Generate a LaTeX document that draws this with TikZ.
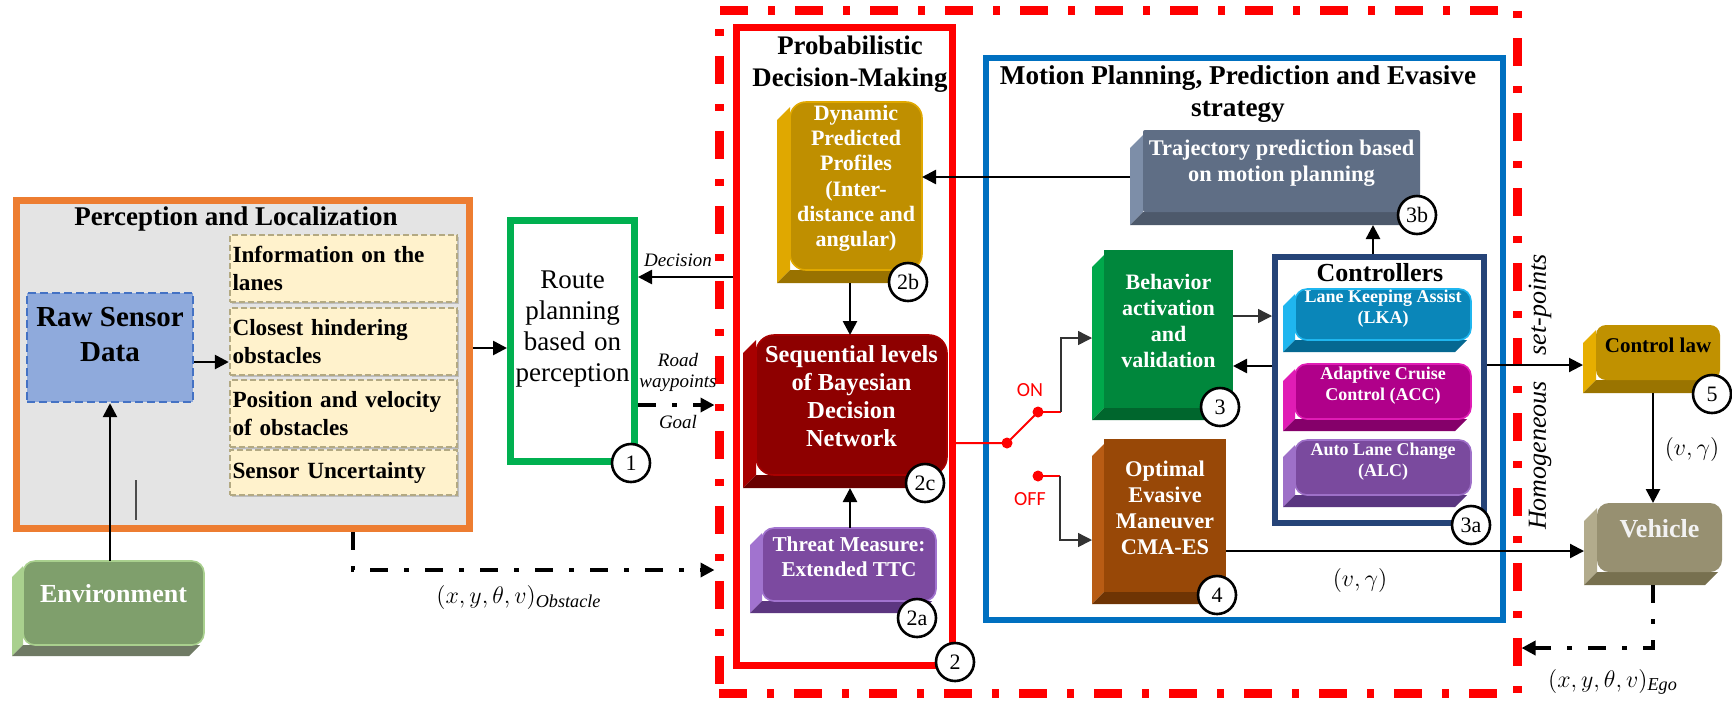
\documentclass[tikz,border=0pt]{standalone}
\usepackage{fontspec}
\setmainfont{Liberation Serif}
\newfontfamily\sansf{Carlito}
\usetikzlibrary{arrows.meta,calc,fit,shadows}
\pgfdeclarelayer{cont}
\pgfdeclarelayer{bev}
\pgfsetlayers{cont,bev,main}

\definecolor{orng}{HTML}{ED7D31}
\definecolor{grayf}{HTML}{E4E4E4}
\definecolor{rawf}{HTML}{8FAADC}
\definecolor{rawb}{HTML}{4472C4}
\definecolor{yel}{HTML}{FFF2CC}
\definecolor{ybord}{HTML}{B3A982}
\definecolor{grn}{HTML}{00B050}
\definecolor{blu}{HTML}{0070C0}
\definecolor{ctrlb}{HTML}{264478}
\definecolor{envF}{HTML}{7F9F6C}
\definecolor{envL}{HTML}{A9D08E}
\definecolor{envB}{HTML}{6F7A64}
\definecolor{dppF}{HTML}{BF8F00}
\definecolor{dppL}{HTML}{E0A800}
\definecolor{dppB}{HTML}{997200}
\definecolor{seqF}{HTML}{8E0000}
\definecolor{seqL}{HTML}{A80000}
\definecolor{seqB}{HTML}{6A0000}
\definecolor{thrF}{HTML}{7C4AA0}
\definecolor{thrL}{HTML}{A173CF}
\definecolor{thrB}{HTML}{5C3680}
\definecolor{trjF}{HTML}{5F6E85}
\definecolor{trjL}{HTML}{7D8EA8}
\definecolor{trjB}{HTML}{4D596B}
\definecolor{behF}{HTML}{00873C}
\definecolor{behL}{HTML}{00A84B}
\definecolor{behB}{HTML}{00662D}
\definecolor{optF}{HTML}{984807}
\definecolor{optL}{HTML}{B85C14}
\definecolor{optB}{HTML}{6E3404}
\definecolor{lkaF}{HTML}{0A86B9}
\definecolor{lkaL}{HTML}{1FB6EF}
\definecolor{lkaB}{HTML}{056891}
\definecolor{accF}{HTML}{B0008A}
\definecolor{accL}{HTML}{E01CB5}
\definecolor{accB}{HTML}{85006A}
\definecolor{alcF}{HTML}{7A4A9E}
\definecolor{alcL}{HTML}{9E70C8}
\definecolor{alcB}{HTML}{5A3680}
\definecolor{clF}{HTML}{C09100}
\definecolor{clL}{HTML}{E6AE00}
\definecolor{clB}{HTML}{9A7400}
\definecolor{vehF}{HTML}{979071}
\definecolor{vehL}{HTML}{B2AB8C}
\definecolor{vehB}{HTML}{77704F}

\newcommand\fsz[2]{\fontsize{#1}{#2}\selectfont}
% slab: name, x1, y1, x2, y2, depth, left colour, bottom colour
\newcommand\slab[8]{%
 \node[fit={(#2,#3)(#4,#5)}, inner sep=0pt, outer sep=0pt] (#1) {};
 \begin{pgfonlayer}{bev}
 \fill[#7] (#2+#6,#3+5) -- (#2+#6,#5-#6) -- (#2,#5) -- (#2,#3+#6+5) -- cycle;
 \fill[#8] (#2+#6,#5-#6) -- (#4-4,#5-#6) -- (#4-4-#6,#5) -- (#2,#5) -- cycle;
 \end{pgfonlayer}}

\begin{document}
\begin{tikzpicture}[x=0.5pt,y=-0.5pt,
 arr/.style={-{Triangle[length=7pt,width=7pt]}, line width=1.3pt},
 tarr/.style={-{Triangle[length=7pt,width=7pt]}, line width=0.7pt, draw=black!80},
 dda/.style={-{Triangle[length=7pt,width=7pt]}, line width=2.4pt, dash pattern=on 9pt off 8pt on 2.5pt off 8pt},
 face/.style={rectangle, inner sep=0pt, outer sep=0pt, align=center, text=white},
 num/.style={circle, draw, line width=1.3pt, fill=white, minimum size=19pt, inner sep=0pt, font=\fsz{11}{11}},
 dot/.style={circle, fill=red, inner sep=0pt, minimum size=5.5pt},
 lab/.style={font=\itshape\fsz{9.5}{10.5}},
 mlab/.style={font=\fsz{13}{15}},
 ybox/.style={draw=ybord, fill=yel, dash pattern=on 3pt off 1.5pt, line width=1.2pt, minimum width=113.5pt, text width=111pt, align=left, inner xsep=1.2pt, inner ysep=0pt, font=\bfseries\fsz{11.6}{14}, drop shadow={shadow xshift=1.2pt, shadow yshift=-1.2pt, fill=black!35, opacity=0.6}}]

\begin{pgfonlayer}{cont}
\fill[white] (0,0) rectangle (1732,703);
\node[draw=orng, fill=grayf, line width=3.5pt, fit={(16.5,200.5)(469.5,528.5)}, inner sep=0pt] (perc) {};
\node[draw=red, line width=4.5pt, dash pattern=on 14pt off 10pt on 3.5pt off 10pt, fit={(719,10)(1517,693)}, inner sep=0pt] (sys) {};
\node[draw=red, line width=3.5pt, fit={(736,27)(952,665)}, inner sep=0pt] (pdm) {};
\node[draw=blu, line width=3pt, fit={(986,58)(1503,620)}, inner sep=0pt] (mpp) {};
\node[draw=ctrlb, line width=3pt, fit={(1275,257)(1484,523)}, inner sep=0pt] (ctrl) {};
\end{pgfonlayer}
\useasboundingbox (0,0) rectangle (1732,703);

\node[draw=grn, line width=3.5pt, fit={(510.5,220.5)(634.5,461.5)}, inner sep=0pt, align=center, font=\fsz{13.5}{15.5}] (route) {Route\\planning\\based on\\perception\\[-9pt]\mbox{}};

% titles
\node[font=\bfseries\fsz{13.5}{16}] (perct) at (236,219) {Perception and Localization};
\node[font=\bfseries\fsz{13.4}{16}, align=center] (pdmt) at (850,64) {Probabilistic\\Decision-Making};
\node[font=\bfseries\fsz{13.6}{16}, align=center] (mppt) at (1238,94) {Motion Planning, Prediction and Evasive\\strategy};
\node[font=\bfseries\fsz{13}{15}] (ctrlt) at (1380,273) {Controllers};

% perception content
\node[draw=rawb, fill=rawf, dash pattern=on 4pt off 2pt, line width=1.2pt, fit={(27,293)(193,402)}, inner sep=0pt] (raw) {};
\node[align=center, font=\bfseries\fsz{14.5}{17.5}] (rawt) at (110,335) {Raw Sensor\\Data};
\node[ybox, minimum height=33.5pt] (y1) at (343.5,268.5) {Information on the\\lanes};
\node[ybox, minimum height=33.5pt] (y2) at (343.5,341.5) {Closest hindering\\obstacles};
\node[ybox, minimum height=33.5pt] (y3) at (343.5,413.5) {Position and velocity\\of obstacles};
\node[ybox, minimum height=22.5pt] (y4) at (343.5,472.5) {Sensor Uncertainty};
\draw[line width=0.6pt, black!70] (136,480) -- (136,520);

% slabs
\slab{env}{12}{561}{204}{656}{11}{envL}{envB}
\node[face, fill=envF, draw=envL, line width=0.8pt, rounded corners=6pt, fit={(23,561)(204,645)}, font=\bfseries\fsz{13}{15}] (envf) {Environment};

\slab{dpp}{777}{102}{922}{283}{13}{dppL}{dppB}
\node[face, fill=dppF, draw=dppL, line width=0.8pt, rounded corners=8pt, fit={(790,102)(922,270)}, font=\bfseries\fsz{11}{12.6}] (dppf) {Dynamic\\Predicted\\Profiles\\(Inter-\\distance and\\angular)};

\slab{seq}{743}{335}{947}{488}{13}{seqL}{seqB}
\node[face, fill=seqF, draw=seqL, line width=0.8pt, rounded corners=9pt, fit={(756,335)(947,475)}, font=\bfseries\fsz{12.2}{14}] (seqf) {Sequential levels\\of Bayesian\\Decision\\Network};

\slab{thr}{750}{528}{936}{613}{12}{thrL}{thrB}
\node[face, fill=thrF, draw=thrL, line width=0.8pt, rounded corners=6pt, fit={(762,528)(936,601)}, font=\bfseries\fsz{10.6}{12.5}] (thrf) {Threat Measure:\\Extended TTC};

\slab{traj}{1130}{130}{1420}{225}{13}{trjL}{trjB}
\node[face, fill=trjF, rounded corners=1pt, fit={(1143,130)(1420,212)}, font=\bfseries\fsz{11.2}{13}] (trajf) {Trajectory prediction based\\on motion planning};

\slab{beh}{1092}{250}{1233}{420}{12}{behL}{behB}
\node[face, fill=behF, fit={(1104,250)(1233,408)}, font=\bfseries\fsz{11}{13}] (behf) {Behavior\\activation\\and\\validation};

\slab{opt}{1092}{439}{1226}{604}{12}{optL}{optB}
\node[face, fill=optF, fit={(1104,439)(1226,592)}, font=\bfseries\fsz{11.2}{13}] (optf) {Optimal\\Evasive\\Maneuver\\CMA-ES};

\slab{lka}{1283}{289}{1471}{352}{12}{lkaL}{lkaB}
\node[face, fill=lkaF, draw=lkaL, line width=0.8pt, rounded corners=6pt, fit={(1295,289)(1471,340)}, font=\bfseries\fsz{9}{10.5}] (lkaf) {Lane Keeping Assist\\(LKA)};
\slab{acc}{1283}{364}{1471}{431}{12}{accL}{accB}
\node[face, fill=accF, draw=accL, line width=0.8pt, rounded corners=6pt, fit={(1295,364)(1471,419)}, font=\bfseries\fsz{9}{10.5}] (accf) {Adaptive Cruise\\Control (ACC)};
\slab{alc}{1283}{440}{1471}{507}{12}{alcL}{alcB}
\node[face, fill=alcF, draw=alcL, line width=0.8pt, rounded corners=6pt, fit={(1295,440)(1471,495)}, font=\bfseries\fsz{9}{10.5}] (alcf) {Auto Lane Change\\(ALC)};

\slab{cl}{1583}{325}{1720}{393}{13}{clL}{clB}
\node[face, fill=clF, rounded corners=5pt, fit={(1596,325)(1720,380)}, text=black, font=\bfseries\fsz{10.5}{12}] (clf) {Control law};
\slab{veh}{1584}{503}{1722}{585}{13}{vehL}{vehB}
\node[face, fill=vehF, rounded corners=6pt, fit={(1597,503)(1722,572)}, text=white!95!black, font=\bfseries\fsz{13}{15}] (vehf) {Vehicle};

% switch dots
\node[dot] (piv) at (1007,443) {};
\node[dot] (on) at (1038,412) {};
\node[dot] (off) at (1038,476) {};

% helper coordinates
\coordinate (cRS) at (0,362);
\coordinate (cPR) at (0,348);
\coordinate (cDec) at (0,277);
\coordinate (cRoad) at (0,405);
\coordinate (cObs) at (353,570);
\coordinate (cDS) at (850,0);
\coordinate (cTD) at (0,177);
\coordinate (cCT) at (1373,0);
\coordinate (cOnC) at (1061,338);
\coordinate (cOffC) at (1060,540);
\coordinate (cBC) at (0,316);
\coordinate (cCB) at (0,366);
\coordinate (cCL) at (0,365);
\coordinate (cOV) at (0,551);
\coordinate (cCV) at (1653,0);
\coordinate (cEgo) at (1653,648);

% connectors
\draw[arr] (raw.south |- env.north) -- (raw.south);
\draw[arr] (raw.east |- cRS) -- (y2.west |- cRS);
\draw[arr] (perc.east |- cPR) -- (route.west |- cPR);
\draw[arr] (pdm.west |- cDec) -- (route.east |- cDec);
\draw[dda] (route.east |- cRoad) -- (sys.west |- cRoad);
\draw[dda] (perc.south -| cObs) -- (cObs) -- (sys.west |- cObs);
\draw[arr] (dpp.south -| cDS) -- (seq.north -| cDS);
\draw[arr] (thr.north -| cDS) -- (seq.south -| cDS);
\draw[arr] (traj.west |- cTD) -- (dpp.east |- cTD);
\draw[arr] (ctrl.north -| cCT) -- (traj.south -| cCT);
\draw[red, line width=1pt] (pdm.east |- piv) -- (piv.center) -- (on.center);
\draw[red, line width=1pt] (on.center) -- (on -| cOnC);
\draw[tarr] (on -| cOnC) -- (cOnC) -- (beh.west |- cOnC);
\draw[red, line width=1pt] (off.center) -- (off -| cOffC);
\draw[tarr] (off -| cOffC) -- (cOffC) -- (opt.west |- cOffC);
\draw[tarr] (beh.east |- cBC) -- (ctrl.west |- cBC);
\draw[arr] (ctrl.west |- cCB) -- (beh.east |- cCB);
\draw[arr, line width=1pt] (ctrl.east |- cCL) -- (cl.west |- cCL);
\draw[arr] (cl.south -| cCV) -- (veh.north -| cCV);
\draw[arr, line width=1.1pt] (opt.east |- cOV) -- (veh.west |- cOV);
\draw[dda] (veh.south -| cEgo) -- (cEgo) -- (sys.east |- cEgo);

% labels
\node[lab] (decl) at (678,260) {Decision};
\node[lab, align=center] (roadl) at (678,372) {Road\\waypoints};
\node[lab] (goall) at (678,422) {Goal};
\node[mlab] (obsl) at (519,597) {$(x,y,\theta,v)_{\mathit{Obstacle}}$};
\node[mlab] (vg1) at (1360,580) {$(v,\gamma)$};
\node[mlab] (vg2) at (1692,449) {$(v,\gamma)$};
\node[mlab] (egol) at (1613,682) {$(x,y,\theta,v)_{\mathit{Ego}}$};
\node[rotate=90, font=\itshape\fsz{13}{15}] (hsp) at (1540,392) {Homogeneous\quad set-points};
\node[text=red, font=\sansf\fsz{10}{12}] (onl) at (1030,390) {ON};
\node[text=red, font=\sansf\fsz{10}{12}] (offl) at (1030,499) {OFF};

% numbered circles
\node[num] (n1) at (631,463) {1};
\node[num] (n2) at (955,662) {2};
\node[num] (n2a) at (917,618) {2a};
\node[num] (n2b) at (908,282) {2b};
\node[num] (n2c) at (925,483) {2c};
\node[num] (n3) at (1220,407) {3};
\node[num] (n3a) at (1471,525) {3a};
\node[num] (n3b) at (1417,215) {3b};
\node[num] (n4) at (1217,595) {4};
\node[num] (n5) at (1712,394) {5};
\end{tikzpicture}
\end{document}
